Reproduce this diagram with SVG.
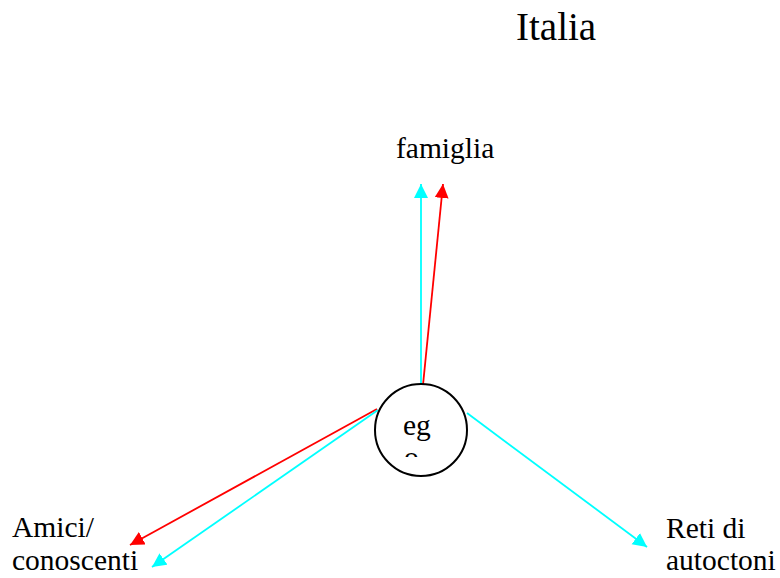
<svg xmlns="http://www.w3.org/2000/svg" width="780" height="578" viewBox="0 0 780 578">
<style>
.t{font-family:"Liberation Serif","Times New Roman",serif;font-size:29.5px;fill:#000}
.c{stroke:#00ffff;stroke-width:1.8;fill:none}
.r{stroke:#ff0000;stroke-width:1.8;fill:none}
</style>
<defs>
<marker id="ac" markerUnits="userSpaceOnUse" markerWidth="15" markerHeight="15" refX="14" refY="7" orient="auto"><path d="M0,0 L14,7 L0,14 Z" fill="#00ffff"/></marker>
<marker id="ar" markerUnits="userSpaceOnUse" markerWidth="15" markerHeight="15" refX="14" refY="7" orient="auto"><path d="M0,0 L14,7 L0,14 Z" fill="#ff0000"/></marker>
<clipPath id="egclip"><rect x="376" y="380" width="92" height="77"/></clipPath>
</defs>
<g id="title"><text class="t" x="516" y="40" style="font-size:39px">Italia</text></g>
<g id="connectors">
<line class="c" x1="421" y1="385" x2="421" y2="184" marker-end="url(#ac)"/>
<line class="r" x1="423" y1="385" x2="443" y2="184" marker-end="url(#ar)"/>
<line class="r" x1="377" y1="409" x2="130" y2="545" marker-end="url(#ar)"/>
<line class="c" x1="378" y1="410" x2="152" y2="567" marker-end="url(#ac)"/>
<line class="c" x1="467" y1="413" x2="647" y2="547" marker-end="url(#ac)"/>
</g>
<g id="ego">
<circle cx="421" cy="430" r="46" fill="#fff" stroke="#000" stroke-width="2"/>
<g clip-path="url(#egclip)"><text class="t" x="403" y="435">eg</text><text class="t" x="404" y="467">o</text></g>
</g>
<g id="famiglia"><text class="t" x="396" y="158">famiglia</text></g>
<g id="amici"><text class="t" x="12" y="537">Amici/</text><text class="t" x="12" y="570">conoscenti</text></g>
<g id="reti"><text class="t" x="666" y="538">Reti di</text><text class="t" x="666" y="570">autoctoni</text></g>
</svg>
